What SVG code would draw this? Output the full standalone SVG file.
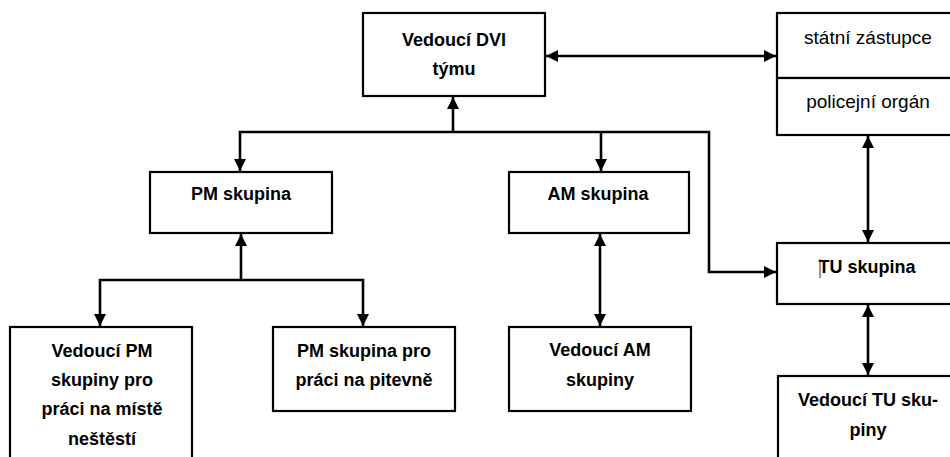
<svg xmlns="http://www.w3.org/2000/svg" width="950" height="457" viewBox="0 0 950 457">
<style>
.box{fill:#fff;stroke:#000;stroke-width:2.2}
.t{font-family:"Liberation Sans",Arial,sans-serif;font-size:18px;font-weight:bold;fill:#000;text-anchor:middle}
.r{font-family:"Liberation Sans",Arial,sans-serif;font-size:19px;fill:#000;text-anchor:middle}
.c{fill:none;stroke:#000;stroke-width:2.6}
</style>
<defs>
<marker id="ah" viewBox="0 0 12 12" refX="12" refY="6" markerWidth="12" markerHeight="12" markerUnits="userSpaceOnUse" orient="auto-start-reverse">
<path d="M0,0 L12,6 L0,12 Z" fill="#000"/>
</marker>
</defs>
<rect width="950" height="457" fill="#fff"/>
<g id="connectors">
<line class="c" x1="546" y1="56" x2="776" y2="56" marker-start="url(#ah)" marker-end="url(#ah)"/>
<line class="c" x1="453" y1="132" x2="453" y2="97" marker-end="url(#ah)"/>
<polyline class="c" points="240,171 240,132 709,132 709,272 776,272" marker-start="url(#ah)" marker-end="url(#ah)"/>
<line class="c" x1="601" y1="132" x2="601" y2="171" marker-end="url(#ah)"/>
<line class="c" x1="241" y1="280" x2="241" y2="234" marker-end="url(#ah)"/>
<polyline class="c" points="100,326 100,280 363,280 363,326" marker-start="url(#ah)" marker-end="url(#ah)"/>
<line class="c" x1="600" y1="234" x2="600" y2="326" marker-start="url(#ah)" marker-end="url(#ah)"/>
<line class="c" x1="868" y1="136" x2="868" y2="242" marker-start="url(#ah)" marker-end="url(#ah)"/>
<line class="c" x1="868" y1="305" x2="868" y2="375" marker-start="url(#ah)" marker-end="url(#ah)"/>
</g>
<g id="dvi">
<rect class="box" x="363" y="13" width="182" height="83"/>
<text class="t" x="454" y="46">Vedoucí DVI</text>
<text class="t" x="454" y="75">týmu</text>
</g>
<g id="statni">
<rect class="box" x="777" y="13" width="180" height="65"/>
<text class="r" x="868" y="44">státní zástupce</text>
</g>
<g id="policejni">
<rect class="box" x="777" y="78" width="180" height="57"/>
<text class="r" x="868" y="108">policejní orgán</text>
</g>
<g id="pm">
<rect class="box" x="150" y="172" width="182" height="61"/>
<text class="t" x="241" y="200">PM skupina</text>
</g>
<g id="am">
<rect class="box" x="509" y="172" width="180" height="61"/>
<text class="t" x="598" y="200">AM skupina</text>
</g>
<g id="tu">
<rect class="box" x="777" y="243" width="180" height="61"/>
<text class="t" x="867" y="273">TU skupina</text>
<line x1="820" y1="259" x2="820" y2="278" stroke="#333" stroke-width="1"/>
</g>
<g id="vedouci-pm">
<rect class="box" x="10" y="327" width="182" height="140"/>
<text class="t" x="102" y="357">Vedoucí PM</text>
<text class="t" x="102" y="386">skupiny pro</text>
<text class="t" x="102" y="415">práci na místě</text>
<text class="t" x="102" y="445">neštěstí</text>
</g>
<g id="pm-pitevna">
<rect class="box" x="273" y="327" width="182" height="84"/>
<text class="t" x="364" y="357">PM skupina pro</text>
<text class="t" x="364" y="386">práci na pitevně</text>
</g>
<g id="vedouci-am">
<rect class="box" x="509" y="327" width="182" height="84"/>
<text class="t" x="600" y="356">Vedoucí AM</text>
<text class="t" x="600" y="386">skupiny</text>
</g>
<g id="vedouci-tu">
<rect class="box" x="778" y="376" width="180" height="90"/>
<text class="t" x="868" y="406">Vedoucí TU sku-</text>
<text class="t" x="868" y="436">piny</text>
</g>
</svg>
